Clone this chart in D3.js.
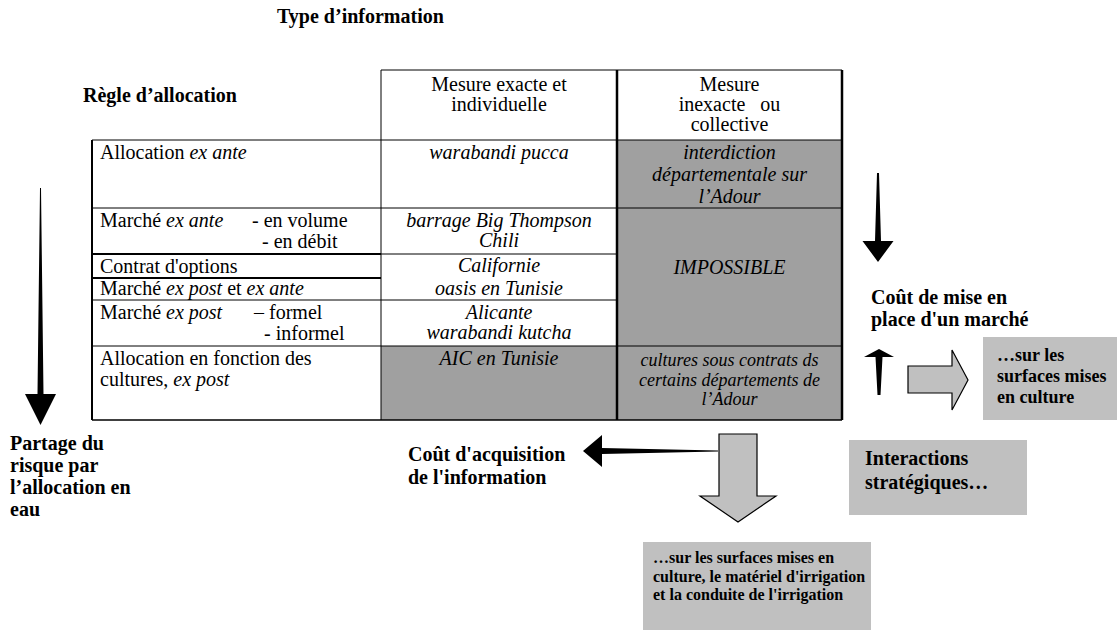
<!DOCTYPE html>
<html><head><meta charset="utf-8">
<script src="https://cdn.jsdelivr.net/npm/d3@7"></script>
<style>
body{margin:0;background:#fff}
svg{display:block}
text{font-family:"Liberation Serif","Times New Roman",Times,serif;fill:#000}
</style>
</head><body>
<svg id="c" width="1117" height="630"></svg>
<script>
// ---------------- DATA (text content) ----------------
const titleTop = "Type d’information";
const titleRows = "Règle d’allocation";
const colHeaders = [["Mesure exacte et", "individuelle"], ["Mesure", "inexacte   ou", "collective"]];
// rule rows: each line is a list of [text, italic] segments; tabs = right-hand sub items
const rules = [
  { lines: [[["Allocation ", 0], ["ex ante", 1]]], tabs: [] },
  { lines: [[["Marché ", 0], ["ex ante", 1]], []], tabs: ["- en volume", "- en débit"] },
  { lines: [[["Contrat d'options", 0]]], tabs: [] },
  { lines: [[["Marché ", 0], ["ex post", 1], [" et ", 0], ["ex ante", 1]]], tabs: [] },
  { lines: [[["Marché ", 0], ["ex post", 1]], []], tabs: ["– formel", "- informel"] },
  { lines: [[["Allocation en fonction des", 0]], [["cultures, ", 0], ["ex post", 1]]], tabs: [] }
];
const examplesExact = [["warabandi pucca"], ["barrage Big Thompson", "Chili"], ["Californie", "oasis en Tunisie"], ["Alicante", "warabandi kutcha"], ["AIC en Tunisie"]];
const examplesCollective = [["interdiction", "départementale sur", "l’Adour"], ["IMPOSSIBLE"], ["cultures sous contrats ds", "certains départements de", "l’Adour"]];
const riskLabel = ["Partage du", "risque par", "l’allocation en", "eau"];
const infoCostLabel = ["Coût d'acquisition", "de l'information"];
const marketCostLabel = ["Coût de mise en", "place d'un marché"];
const boxSurfaces = ["…sur les", "surfaces mises", "en culture"];
const boxInteractions = ["Interactions", "stratégiques…"];
const boxAll = ["…sur les surfaces mises en", "culture, le matériel d'irrigation", "et la conduite de l'irrigation"];

// ---------------- LAYOUT ----------------
const svg = d3.select("#c");
const DARK = "#a0a0a0", LIGHT = "#c0c0c0";
const colEdges = [92, 381, 617, 842];
const x = d3.scaleOrdinal().domain(["left", "mid", "right", "end"]).range(colEdges);
const headerTop = 70;
const ruleEdges = [140, 208, 254, 278, 300, 346, 420];
const y = d3.scaleOrdinal().domain(d3.range(ruleEdges.length)).range(ruleEdges);
const midSpans = [[0, 1], [1, 2], [2, 4], [4, 5], [5, 6]];
const rightSpans = [[0, 1], [1, 5], [5, 6]];
const tabX = [null, [252, 262], null, null, [254, 264], null];
const midGrey = [false, false, false, false, true];
const FS = 20, LH = 20.5;

// ---- grey fills ----
svg.selectAll("rect.midfill").data(midSpans.filter((d, i) => midGrey[i])).join("rect")
  .attr("x", x("mid")).attr("width", x("right") - x("mid"))
  .attr("y", d => y(d[0])).attr("height", d => y(d[1]) - y(d[0])).attr("fill", DARK);
svg.selectAll("rect.rfill").data(rightSpans).join("rect").attr("class", "rfill")
  .attr("x", x("right")).attr("width", x("end") - x("right"))
  .attr("y", d => y(d[0])).attr("height", d => y(d[1]) - y(d[0])).attr("fill", DARK);

// ---- grid lines ----
const L = svg.append("g").attr("stroke", "#000").attr("fill", "none");
function line(x1, y1, x2, y2, w) { L.append("line").attr("x1", x1).attr("y1", y1).attr("x2", x2).attr("y2", y2).attr("stroke-width", w); }
line(x("mid"), headerTop, x("end"), headerTop, 1);
line(x("mid"), headerTop, x("mid"), y(0), 1);
line(x("left"), y(0), x("end"), y(0), 1);
line(x("left"), y(0), x("left"), y(6), 2);
line(x("mid"), y(0), x("mid"), y(6), 1);
line(x("right"), headerTop, x("right"), y(6), 2.5);
line(x("end"), headerTop, x("end"), y(6), 2.5);
line(x("left"), y(1), x("end"), y(1), 1);
line(x("left"), y(2), x("mid"), y(2), 2);
line(x("mid"), y(2), x("right"), y(2), 1);
line(x("left"), y(3), x("mid"), y(3), 2);
line(x("left"), y(4), x("right"), y(4), 1);
line(x("left"), y(5), x("end"), y(5), 1);
line(x("left"), y(6), x("end"), y(6), 1.5);

// ---- text helpers ----
function lines(g, arr, cx, y0, lh, opts) {
  const t = g.append("text").attr("font-size", opts.size || FS)
    .attr("font-weight", opts.bold ? "bold" : null)
    .attr("font-style", opts.italic ? "italic" : null)
    .attr("text-anchor", opts.anchor || "start")
    .style("white-space", "pre");
  arr.forEach((s, i) => t.append("tspan").attr("x", cx).attr("y", y0 + i * lh).text(s));
  return t;
}
const T = svg.append("g");
lines(T, [titleTop], 277, 23, 0, { bold: true });
lines(T, [titleRows], 83, 102, 0, { bold: true });
lines(T, colHeaders[0], (x("mid") + x("right")) / 2, 91, 20, { anchor: "middle" });
lines(T, colHeaders[1], (x("right") + x("end")) / 2, 91, 20, { anchor: "middle" });

rules.forEach((r, i) => {
  const top = y(i);
  const base = top + (i === 3 ? 17 : 19);
  r.lines.forEach((segs, j) => {
    if (!segs.length) return;
    const t = T.append("text").attr("font-size", FS).attr("x", 100).attr("y", base + j * LH);
    segs.forEach(s => t.append("tspan").attr("font-style", s[1] ? "italic" : null).text(s[0]));
  });
  r.tabs.forEach((s, j) => T.append("text").attr("font-size", FS).attr("x", tabX[i][j]).attr("y", base + j * LH).text(s));
});
const midBase = [159, 227, 272, 319, 365];
const midLH = [0, 20, 23, 20, 0];
examplesExact.forEach((a, i) => lines(T, a, (x("mid") + x("right")) / 2, midBase[i], midLH[i], { italic: true, anchor: "middle" }));
const rBase = [159, 274, 366], rLH = [22, 0, 19.5], rSize = [FS, FS, 18];
examplesCollective.forEach((a, i) => lines(T, a, (x("right") + x("end")) / 2, rBase[i], rLH[i], { italic: true, anchor: "middle", size: rSize[i] }));

// ---- outside labels ----
lines(T, riskLabel, 10, 450, 22, { bold: true });
lines(T, infoCostLabel, 408, 461, 23, { bold: true });
lines(T, marketCostLabel, 871, 304, 21.5, { bold: true });

const boxes = [
  { r: [983, 337, 134, 83], t: boxSurfaces, tx: 997, ty: 361, lh: 21, fs: 18 },
  { r: [849, 440, 178, 75], t: boxInteractions, tx: 865, ty: 465, lh: 24, fs: 20 },
  { r: [643, 542, 228, 88], t: boxAll, tx: 653, ty: 563, lh: 18.5, fs: 16 }
];
boxes.forEach(b => {
  svg.append("rect").attr("x", b.r[0]).attr("y", b.r[1]).attr("width", b.r[2]).attr("height", b.r[3]).attr("fill", LIGHT);
  lines(svg, b.t, b.tx, b.ty, b.lh, { bold: true, size: b.fs });
});

// ---- arrows ----
function taper(x1, y1, x2, y2, w0, w1, hw, hl) {
  const dx = x2 - x1, dy = y2 - y1, len = Math.hypot(dx, dy);
  const ux = dx / len, uy = dy / len, nx = -uy, ny = ux;
  const bx = x2 - ux * hl, by = y2 - uy * hl;
  const p = d3.path();
  p.moveTo(x1 + nx * w0 / 2, y1 + ny * w0 / 2);
  p.lineTo(bx + nx * w1 / 2, by + ny * w1 / 2);
  p.lineTo(bx + nx * hw / 2, by + ny * hw / 2);
  p.lineTo(x2, y2);
  p.lineTo(bx - nx * hw / 2, by - ny * hw / 2);
  p.lineTo(bx - nx * w1 / 2, by - ny * w1 / 2);
  p.lineTo(x1 - nx * w0 / 2, y1 - ny * w0 / 2);
  p.closePath();
  svg.append("path").attr("d", p.toString()).attr("fill", "#000");
}
taper(40.5, 188, 40.5, 425, 1, 6, 31, 31);
taper(878, 173, 878, 262, 2, 6, 31, 21);
taper(879, 395, 879, 349, 3, 7, 30, 8);
taper(718, 451, 583, 451, 1, 6, 32, 19);

function block(pts) {
  svg.append("path").attr("d", d3.line()(pts) + "Z").attr("fill", LIGHT).attr("stroke", "#000").attr("stroke-width", 1.2);
}
block([[908, 366], [952, 366], [952, 350], [968, 380], [952, 410], [952, 393], [908, 393]]);
block([[719, 434], [757, 434], [757, 496], [776, 496], [738, 522], [700, 496], [719, 496]]);
</script>
</body></html>
